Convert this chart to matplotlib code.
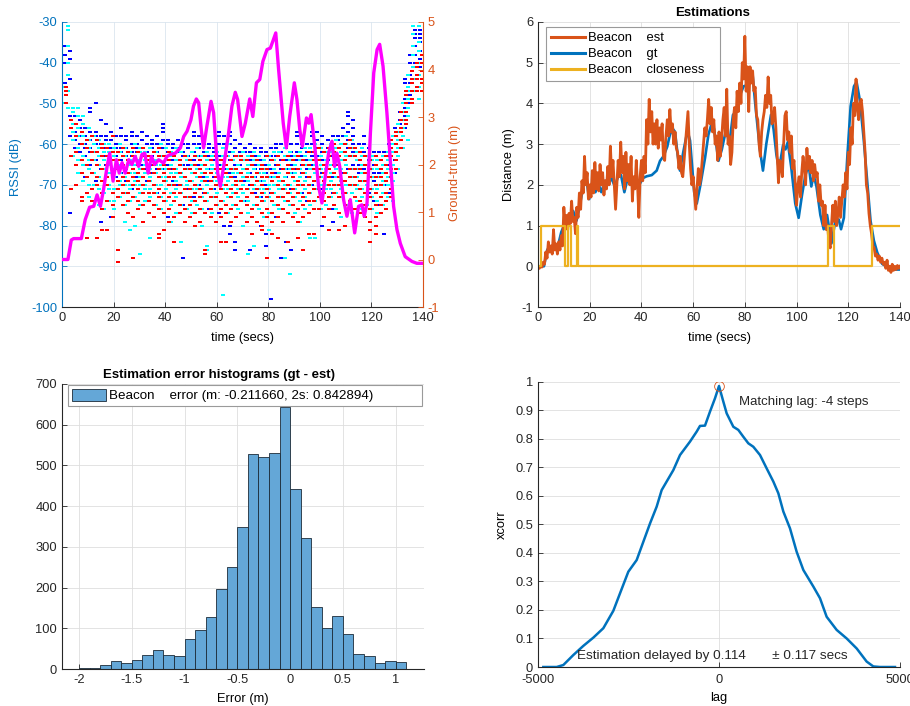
import numpy as np
import matplotlib
matplotlib.use("Agg")
import matplotlib.pyplot as plt
from matplotlib.patches import Patch
from matplotlib.lines import Line2D

plt.rcParams['font.family'] = ['Liberation Sans', 'DejaVu Sans']
plt.rcParams['font.size'] = 9.3
plt.rcParams['axes.unicode_minus'] = False

BLUE = '#0072BD'
ORANGE = '#D95319'
YELLOW = '#EDB120'
TXT = '#262626'

# ---- RSSI samples per beacon colour, one list per time column (dB)
blue_rssi = [
    [-36, -38, -40, -45], [-37, -39, -44, -53, -58, -77], [-53, -55, -57, -59, -61],
    [-54, -56, -58, -60, -62, -64], [-56, -58, -60, -61, -63, -68],
    [-51, -52, -57, -59, -61, -62, -65], [-50, -57, -58, -60, -62, -64, -69],
    [-54, -58, -60, -61, -63, -66, -79], [-55, -58, -59, -61, -63, -65, -68],
    [-57, -59, -61, -62, -64, -67, -78], [-58, -60, -61, -63, -65, -68],
    [-56, -58, -61, -62, -64, -67, -70], [-58, -59, -61, -63, -66, -69],
    [-57, -58, -60, -62, -63, -65, -71], [-58, -60, -61, -62, -64, -68],
    [-57, -59, -61, -63, -65, -70], [-58, -60, -62, -63, -66, -69],
    [-59, -60, -61, -63, -65, -67], [-58, -60, -62, -64, -66, -72],
    [-55, -56, -57, -59, -61, -63, -66], [-59, -60, -62, -64, -65, -68, -78],
    [-60, -61, -63, -64, -66, -69], [-59, -61, -62, -64, -67, -70],
    [-60, -62, -63, -65, -68, -75, -88], [-60, -61, -63, -65, -66, -71],
    [-57, -58, -60, -62, -64, -67, -73], [-58, -60, -61, -63, -65, -70],
    [-60, -62, -63, -65, -68, -72], [-60, -61, -63, -64, -66, -69, -76],
    [-61, -62, -64, -66, -68, -71], [-57, -58, -60, -63, -65, -69, -77],
    [-58, -60, -61, -63, -66, -70, -80], [-57, -58, -60, -62, -64, -67, -80, -82],
    [-59, -61, -63, -65, -68, -84, -86], [-60, -62, -63, -65, -67, -71],
    [-61, -62, -64, -66, -69, -74], [-60, -62, -64, -65, -67, -70, -86],
    [-61, -63, -65, -66, -68, -72], [-61, -62, -64, -66, -69, -73, -80],
    [-62, -63, -65, -67, -70, -82, -85], [-61, -63, -64, -66, -68, -72, -98],
    [-60, -61, -63, -65, -67, -70, -78], [-60, -62, -64, -66, -69, -88],
    [-61, -63, -64, -66, -68, -84], [-60, -62, -63, -65, -67, -71, -86],
    [-57, -58, -60, -62, -64, -66, -69], [-60, -61, -63, -65, -67, -72],
    [-60, -62, -64, -66, -68, -74], [-57, -58, -60, -62, -63, -65, -70],
    [-57, -59, -61, -63, -66, -69], [-58, -60, -62, -64, -67, -71, -80],
    [-59, -61, -62, -64, -66, -70], [-58, -60, -63, -65, -68, -72, -76, -79],
    [-58, -59, -61, -63, -65, -68], [-56, -58, -60, -62, -64, -67, -72],
    [-52, -53, -55, -57, -59, -61, -63, -66], [-54, -56, -58, -60, -62, -65, -70],
    [-60, -62, -64, -65, -67, -71], [-58, -60, -62, -63, -66, -69],
    [-61, -63, -64, -66, -68, -72], [-62, -63, -65, -67, -69, -74],
    [-62, -64, -66, -67, -70, -75], [-62, -63, -65, -67, -70, -82],
    [-60, -62, -63, -65, -68, -72], [-56, -58, -60, -62, -64, -67],
    [-52, -54, -55, -57, -59, -61], [-44, -45, -49, -51, -53, -56],
    [-38, -40, -43, -45, -48, -50], [-32, -33, -34, -36, -38, -40, -44],
    [-32, -33, -34, -35, -37, -39, -41],
]
cyan_rssi = [
    [-46, -50], [-31, -32, -36, -40, -43, -47, -51], [-51, -52, -55, -57, -59, -63],
    [-51, -53, -56, -58, -61, -64, -67], [-53, -55, -58, -60, -63, -65, -69],
    [-56, -59, -61, -64, -66, -70, -73], [-58, -60, -62, -64, -67, -70, -74],
    [-59, -61, -63, -65, -68, -71, -75], [-60, -62, -64, -66, -69, -72, -76],
    [-60, -62, -65, -67, -70, -71, -74], [-61, -63, -64, -66, -68, -71, -74, -76],
    [-60, -62, -65, -67, -69, -70, -73], [-61, -63, -66, -68, -70, -72, -75, -79],
    [-62, -64, -65, -67, -70, -71, -74, -81], [-60, -63, -65, -67, -69, -70, -73, -80],
    [-61, -62, -64, -66, -68, -70, -72, -75, -87], [-62, -64, -65, -67, -70, -71, -74],
    [-61, -63, -66, -68, -69, -71, -73, -83], [-62, -64, -65, -67, -70, -72, -75],
    [-60, -63, -65, -66, -68, -70, -73, -76], [-61, -64, -66, -68, -69, -71, -74],
    [-62, -63, -65, -67, -70, -72, -75, -79], [-61, -64, -66, -67, -69, -71, -73, -77],
    [-62, -65, -67, -68, -70, -72, -75, -84], [-63, -64, -66, -69, -70, -73, -76],
    [-62, -65, -67, -69, -71, -74, -77], [-61, -63, -66, -68, -70, -71, -75],
    [-63, -65, -67, -69, -71, -73, -76, -80], [-62, -64, -66, -68, -70, -72, -74, -85, -86],
    [-63, -65, -66, -69, -71, -73, -77], [-62, -64, -67, -69, -70, -72, -75],
    [-61, -63, -65, -68, -70, -71, -74, -97], [-60, -63, -66, -68, -69, -71, -73, -77],
    [-62, -64, -66, -67, -70, -72, -75], [-63, -65, -67, -69, -71, -73, -76],
    [-62, -64, -66, -68, -70, -72, -74, -80], [-63, -65, -67, -69, -71, -74, -77, -87],
    [-62, -64, -66, -68, -70, -71, -75, -85], [-63, -65, -67, -69, -71, -73, -76],
    [-64, -66, -67, -69, -71, -72, -74, -78], [-63, -65, -68, -70, -71, -73, -77, -81],
    [-62, -64, -66, -68, -70, -72, -75], [-62, -65, -67, -69, -71, -73, -76],
    [-61, -63, -66, -68, -70, -71, -74, -88], [-62, -64, -66, -67, -70, -72, -75, -92],
    [-63, -65, -67, -69, -71, -73, -77], [-62, -64, -66, -68, -70, -72, -74, -79],
    [-61, -63, -65, -67, -69, -71, -73, -76], [-61, -64, -66, -68, -70, -72, -75, -83],
    [-60, -62, -65, -67, -69, -71, -74, -83], [-61, -63, -65, -66, -68, -70, -73, -76],
    [-62, -64, -66, -68, -70, -71, -75], [-60, -62, -65, -67, -69, -71, -73],
    [-59, -61, -64, -66, -68, -70, -72, -76], [-60, -62, -64, -66, -69, -71, -73, -78],
    [-58, -60, -63, -65, -67, -70, -72, -75], [-59, -61, -63, -66, -68, -70, -72, -77],
    [-62, -64, -66, -68, -70, -71, -74], [-61, -63, -65, -67, -69, -71, -73, -76],
    [-63, -65, -67, -69, -70, -72, -75], [-63, -64, -66, -68, -71, -73, -76],
    [-64, -66, -68, -70, -71, -74, -77], [-63, -65, -67, -69, -70, -72, -75],
    [-62, -64, -66, -68, -70, -73], [-58, -60, -62, -65, -67, -69, -74],
    [-55, -57, -59, -61, -63, -66], [-50, -52, -54, -56, -58, -61],
    [-43, -46, -47, -49, -51, -53, -59], [-31, -33, -36, -38, -41, -44, -47],
    [-31, -35, -37, -40, -43, -46, -49],
]
red_rssi = [
    [-46, -47, -48, -50], [-54, -56, -63, -71], [-55, -58, -62, -65, -70],
    [-57, -60, -64, -67, -73, -74], [-59, -61, -65, -68, -72, -83],
    [-58, -62, -64, -67, -71, -74], [-59, -62, -65, -68, -70, -73, -83],
    [-60, -61, -63, -66, -69, -72, -76, -81], [-61, -63, -65, -68, -70, -74, -81],
    [-58, -62, -64, -67, -72, -75, -78], [-62, -64, -66, -69, -71, -73, -86, -89],
    [-61, -63, -65, -68, -70, -72, -75], [-62, -64, -67, -69, -72, -74, -77],
    [-61, -63, -66, -68, -70, -73, -78, -88], [-62, -65, -67, -69, -71, -74, -76],
    [-61, -63, -66, -68, -70, -72, -75, -79], [-63, -64, -67, -69, -72, -74, -77],
    [-62, -65, -67, -70, -72, -75, -78], [-61, -63, -66, -68, -71, -73, -76, -82, -83],
    [-63, -65, -67, -69, -72, -74, -77, -81], [-62, -64, -66, -68, -70, -73, -76, -79],
    [-63, -66, -68, -70, -72, -74, -78, -84], [-64, -65, -67, -70, -72, -75, -77],
    [-63, -66, -68, -71, -73, -76, -79], [-64, -66, -69, -71, -73, -75, -78],
    [-63, -65, -67, -70, -72, -74, -77, -80], [-64, -66, -68, -71, -73, -76, -79],
    [-63, -65, -67, -69, -72, -74, -77, -86, -87], [-64, -67, -69, -71, -73, -76, -78],
    [-63, -66, -68, -70, -73, -75, -79], [-64, -66, -69, -71, -74, -76, -78, -84],
    [-63, -65, -67, -70, -72, -75, -77, -84], [-64, -66, -68, -71, -73, -76, -79],
    [-63, -66, -69, -70, -72, -75, -78], [-63, -64, -67, -69, -71, -74, -77],
    [-64, -66, -68, -71, -73, -75, -79], [-63, -65, -68, -70, -72, -76, -78, -82],
    [-64, -67, -69, -71, -73, -75, -79], [-65, -66, -68, -70, -72, -74, -77, -80, -81],
    [-63, -66, -68, -71, -73, -76, -78, -88], [-64, -67, -69, -72, -74, -77, -79, -82],
    [-63, -65, -68, -70, -73, -75, -78, -83], [-64, -66, -69, -71, -73, -76, -79],
    [-63, -65, -67, -70, -72, -74, -77, -84], [-64, -66, -68, -71, -73, -75, -78],
    [-63, -66, -69, -70, -72, -76, -79, -83], [-64, -65, -67, -70, -73, -75, -78, -86],
    [-62, -65, -68, -70, -72, -74, -77, -82], [-62, -64, -66, -69, -71, -74, -76, -82],
    [-61, -64, -66, -68, -71, -73, -76], [-62, -65, -67, -69, -72, -74, -78],
    [-61, -63, -66, -68, -70, -73, -76, -81], [-60, -62, -65, -67, -70, -72, -75],
    [-61, -63, -65, -68, -70, -73, -77, -81], [-60, -62, -64, -67, -69, -72, -75, -80],
    [-59, -61, -63, -66, -68, -70, -74], [-61, -63, -66, -68, -70, -73, -76],
    [-62, -64, -66, -69, -71, -74, -77], [-63, -65, -67, -69, -72, -75, -78],
    [-64, -66, -68, -71, -73, -76, -79, -81, -84], [-63, -65, -68, -70, -72, -75, -78, -80, -82],
    [-64, -66, -68, -70, -73, -75, -77], [-63, -65, -67, -69, -72, -74, -76],
    [-59, -61, -63, -66, -68, -71, -73], [-57, -58, -60, -62, -64, -66],
    [-52, -54, -56, -57, -59, -61], [-47, -48, -50, -52, -54, -55],
    [-42, -44, -45, -47, -49, -50], [-40, -41, -43, -44, -46, -47],
    [-38, -40, -42, -44, -45, -47],
]
blue_t = np.arange(1.0, 140, 2)
cyan_t = np.arange(0.3, 139, 2)
red_t = np.arange(1.6, 140, 2)

# ---- ground truth distance (m)
gt_t = [0, 2.3, 3.6, 4.5, 7.5, 9.0, 10.7, 12.3, 13.6, 14.9, 16.1, 17.5, 18.5, 19.8, 21.1,
        22.2, 23.3, 24.5, 25.9, 27.1, 28.4, 29.7, 31.0, 32.1, 33.4, 34.7, 35.9, 37.5, 39.4,
        40.7, 42.0, 44.0, 45.9, 47.2, 48.5, 50.0, 51.0, 52.1, 53.0, 54.0, 54.9, 56.2, 57.8,
        58.8, 60.4, 61.4, 62.7, 64.6, 65.9, 67.2, 68.1, 69.8, 71.1, 72.8, 74.0, 75.4, 76.7,
        77.9, 79.5, 80.8, 81.8, 82.9, 84.0, 85.8, 87.0, 88.3, 90.1, 91.1, 92.2, 93.2, 94.8,
        95.7, 96.6, 97.9, 99.5, 100.8, 102.1, 103.4, 104.7, 105.7, 106.6, 107.7, 109.2,
        110.5, 111.8, 113.5, 115.0, 116.3, 117.2, 118.3, 119.6, 120.9, 122.2, 123.2, 124.5,
        126.0, 127.3, 128.6, 129.9, 131.2, 133.1, 135.7, 137.6, 140]
gt_v = [0, 0, 0.41, 0.44, 0.44, 0.84, 1.10, 1.12, 1.36, 1.12, 1.47, 1.96, 2.24, 1.65, 2.10,
        1.82, 2.04, 1.82, 2.10, 2.00, 2.17, 1.96, 2.21, 2.24, 1.82, 2.17, 2.00, 2.10, 2.03,
        2.17, 2.21, 2.24, 2.35, 2.59, 2.70, 2.94, 3.23, 3.38, 3.30, 2.74, 2.35, 2.81, 3.33,
        3.09, 1.82, 1.54, 1.96, 2.66, 3.23, 3.52, 3.37, 2.59, 2.87, 3.38, 3.01, 3.72, 3.79,
        4.17, 4.42, 4.45, 4.60, 4.77, 4.00, 2.87, 2.35, 3.01, 3.72, 3.37, 2.74, 2.38, 2.98,
        2.87, 3.05, 2.45, 1.54, 1.19, 1.75, 2.24, 2.49, 1.96, 2.24, 1.96, 1.26,
        0.91, 1.26, 0.56, 1.12, 1.15, 0.91, 1.19, 2.66, 3.93, 4.42, 4.53, 4.07,
        3.09, 2.10, 1.12, 0.63, 0.34, 0.06, -0.04, -0.08, -0.08]

# ---- estimated distance (m), every 0.5 s from 0 to 140
est_v = [
    -0.05, -0.05, 0.0, -0.02, 0.1, 0.05, 0.35, 0.2, 0.6, 0.35,
    0.5, 0.3, 0.9, 0.4, 0.55, 0.3, 0.6, 0.4, 0.75, 0.5,
    1.45, 1.0, 1.25, 0.9, 1.3, 1.05, 1.6, 1.1, 1.2, 0.8,
    1.45, 1.2, 1.8, 1.4, 2.1, 1.8, 2.7, 2.0, 2.3, 1.65,
    2.0, 1.7, 2.35, 1.8, 2.55, 1.9, 2.3, 1.85, 2.5, 2.0,
    2.3, 1.75, 2.1, 1.9, 2.45, 2.0, 2.95, 2.2, 2.6, 2.0,
    1.4, 2.0, 2.6, 2.2, 3.05, 2.3, 2.7, 1.9, 2.8, 2.1,
    2.5, 2.0, 2.7, 1.6, 2.2, 1.9, 2.6, 2.0, 1.2, 2.2,
    2.6, 2.1, 2.7, 2.3, 3.6, 3.0, 4.1, 3.3, 3.8, 3.0,
    3.5, 3.0, 3.6, 2.9, 3.4, 3.1, 3.5, 2.7, 2.6, 3.2,
    3.6, 3.2, 3.85, 3.3, 3.5, 3.0, 3.3, 2.9, 2.8, 2.4,
    2.7, 2.3, 2.2, 2.6, 3.0, 3.4, 3.8, 3.0, 2.4, 2.0,
    2.2, 1.8, 1.4, 1.9, 2.4, 2.0, 2.2, 2.6, 3.0, 3.4,
    3.2, 3.6, 4.1, 3.5, 3.9, 3.3, 3.6, 3.0, 3.2, 2.6,
    3.3, 2.7, 3.1, 3.6, 3.9, 3.2, 4.35, 3.0, 3.2, 2.5,
    2.8, 3.6, 3.9, 3.4, 4.3, 3.8, 4.5, 4.0, 5.0, 4.6,
    5.65, 4.3, 4.9, 3.8, 4.9, 4.5, 4.8, 4.3, 4.4, 3.7,
    3.6, 3.0, 2.7, 3.3, 3.6, 3.8, 4.2, 3.9, 4.65, 4.0,
    4.2, 3.5, 3.6, 3.9, 3.4, 2.7, 2.05, 2.6, 2.5, 2.2,
    3.0, 3.7, 3.8, 3.1, 3.3, 2.8, 3.2, 2.4, 2.6, 2.0,
    1.5, 2.0, 2.2, 1.7, 2.3, 2.7, 2.4, 2.0, 2.9, 2.4,
    2.7, 2.3, 2.6, 2.1, 2.5, 2.2, 2.3, 1.6, 2.0, 1.5,
    1.6, 1.0, 1.5, 0.9, 1.0, 0.6, 0.45, 1.0, 1.5, 1.1,
    1.6, 1.0, 1.3, 1.7, 1.2, 1.6, 2.0, 1.7, 2.3, 1.9,
    2.8, 2.5, 3.4, 3.0, 4.0, 3.7, 4.6, 3.9, 3.6, 4.0,
    4.1, 3.8, 3.3, 2.8, 2.0, 1.8, 1.3, 1.0, 0.8, 0.5,
    0.45, 0.25, 0.3, 0.15, 0.25, 0.1, 0.2, 0.05, 0.1, -0.05,
    0.15, -0.1, 0.0, -0.15, 0.05, -0.1, 0.0, -0.08, 0.02, -0.05,
    0.0,
]
est_t = np.linspace(0, 140, len(est_v))

# ---- closeness flag (step)
close_t = [0, 1.2, 10.3, 11.5, 12.9, 14.9, 15.6, 112.2, 114.4, 129.0, 140]
close_v = [0, 1, 0, 1, 0, 1, 0, 1, 0, 1, 1]

# ---- error histogram (bin width 0.1 from -2.0)
hist_left = -2.0
hist_width = 0.1
hist_counts = [2, 2, 9, 20, 14, 21, 34, 46, 34, 32, 74, 96, 127, 196, 250, 348,
               527, 520, 530, 643, 441, 321, 152, 100, 129, 86, 36, 33, 14, 20, 16]

# ---- cross-correlation
lag = [-4853, -4484, -4300, -4024, -3748, -3471, -3195, -2919, -2735, -2505, -2274,
       -2090, -1906, -1722, -1584, -1446, -1262, -1077, -801, -617, -525, -387, -249,
       -110, 0, 120, 212, 396, 534, 672, 810, 948, 1133, 1317, 1501, 1639, 1777, 1961,
       2145, 2330, 2606, 2790, 2974, 3250, 3527, 3803, 4079, 4263, 4448, 4862]
xc = [0, 0, 0.007, 0.042, 0.074, 0.103, 0.136, 0.197, 0.258, 0.334, 0.375,
      0.439, 0.503, 0.562, 0.620, 0.650, 0.690, 0.743, 0.790, 0.825, 0.845, 0.846, 0.895,
      0.942, 0.985, 0.930, 0.889, 0.842, 0.831, 0.807, 0.784, 0.772, 0.743, 0.696, 0.650,
      0.609, 0.545, 0.486, 0.404, 0.340, 0.282, 0.241, 0.176, 0.130, 0.100, 0.065,
      0.019, 0.002, 0, 0]


def style_axes(ax, grid_color='#dedede'):
    for s in ['top', 'right']:
        ax.spines[s].set_visible(False)
    for s in ['left', 'bottom']:
        ax.spines[s].set_linewidth(0.8)
        ax.spines[s].set_color(TXT)
    ax.tick_params(direction='in', length=3.5, width=0.6, colors=TXT, labelsize=9.3)
    ax.grid(True, color=grid_color, linewidth=0.6)
    ax.set_axisbelow(True)


fig = plt.figure(figsize=(9.1, 7.06), dpi=100)

# ---------------- top-left: RSSI + ground truth
ax1 = fig.add_axes([62 / 910, 1 - 307 / 706, 361 / 910, 285 / 706])
style_axes(ax1, grid_color='#dae5ef')
ax1.spines['left'].set_color(BLUE)
ax1.tick_params(axis='y', colors=BLUE)
ax1.tick_params(axis='x', colors=TXT)
dot = [(-1, -0.78), (1, -0.78), (1, 0.78), (-1, 0.78), (-1, -0.78)]
for times, cols, c in [(blue_t, blue_rssi, '#0000FF'), (cyan_t, cyan_rssi, '#00FFFF'),
                       (red_t, red_rssi, '#FF0000')]:
    xs = np.concatenate([[t] * len(v) for t, v in zip(times, cols)])
    ys = np.concatenate(cols)
    ax1.plot(xs, ys, linestyle='none', marker=dot, ms=2.7, mew=0, color=c)
ax1.set_xlim(0, 140)
ax1.set_ylim(-100, -30)
ax1.set_xticks(range(0, 141, 20))
ax1.set_yticks(range(-100, -29, 10))
ax1.set_xlabel('time (secs)', va='center')
ax1.xaxis.set_label_coords(0.5, -0.11)
ax1.set_ylabel('RSSI (dB)', color=BLUE, va='center')
ax1.yaxis.set_label_coords(-0.128, 0.49)

ax2 = ax1.twinx()
ax2.plot(gt_t, gt_v, color='#FF00FF', lw=2.4)
ax2.set_ylim(-1, 5)
ax2.set_yticks(range(-1, 6))
for s in ['top', 'left', 'bottom']:
    ax2.spines[s].set_visible(False)
ax2.spines['right'].set_color(ORANGE)
ax2.spines['right'].set_linewidth(0.8)
ax2.tick_params(axis='y', direction='in', length=3.5, width=0.6, colors=ORANGE, labelsize=9.3)
ax2.set_ylabel('Ground-truth (m)', color=ORANGE, va='center')
ax2.yaxis.set_label_coords(1.09, 0.47)

# ---------------- top-right: estimations
ax3 = fig.add_axes([538 / 910, 1 - 307 / 706, 362 / 910, 285 / 706])
style_axes(ax3)
ax3.plot(gt_t, gt_v, color=BLUE, lw=1.9)
ax3.plot(est_t, est_v, color=ORANGE, lw=2.0)
ax3.plot(close_t, close_v, color=YELLOW, lw=1.6, drawstyle='steps-post')
ax3.set_xlim(0, 140)
ax3.set_ylim(-1, 6)
ax3.set_xticks(range(0, 141, 20))
ax3.set_yticks(range(-1, 7))
ax3.set_title('Estimations', fontweight='bold', fontsize=9.5, x=0.483, pad=4)
ax3.set_xlabel('time (secs)', va='center')
ax3.xaxis.set_label_coords(0.5, -0.11)
ax3.set_ylabel('Distance (m)', va='center')
ax3.yaxis.set_label_coords(-0.08, 0.5)
handles = [Line2D([], [], color=ORANGE, lw=2.2), Line2D([], [], color=BLUE, lw=2.2),
           Line2D([], [], color=YELLOW, lw=2.2)]
leg = ax3.legend(handles, ['Beacon    est', 'Beacon    gt', 'Beacon    closeness   '],
                 loc='upper left', bbox_to_anchor=(0.022, 0.982), fancybox=False,
                 edgecolor='#9a9a9a', framealpha=1, handlelength=2.6, handletextpad=0.2,
                 labelspacing=0.28, borderpad=0.4, borderaxespad=0, fontsize=9.4)
leg.get_frame().set_linewidth(0.8)

# ---------------- bottom-left: error histogram
ax4 = fig.add_axes([62 / 910, 1 - 669 / 706, 362 / 910, 285 / 706])
style_axes(ax4)
edges = hist_left + hist_width * np.arange(len(hist_counts))
ax4.bar(edges, hist_counts, width=hist_width, align='edge', color='#64a7d7',
        edgecolor='#1c2b38', linewidth=0.6)
ax4.set_xlim(-2.161, 1.268)
ax4.set_ylim(0, 700)
ax4.set_xticks([-2, -1.5, -1, -0.5, 0, 0.5, 1])
ax4.set_xticklabels(['-2', '-1.5', '-1', '-0.5', '0', '0.5', '1'])
ax4.set_yticks(range(0, 701, 100))
ax4.set_title('Estimation error histograms (gt - est)', fontweight='bold', fontsize=9.5,
              x=0.434, pad=4)
ax4.set_xlabel('Error (m)', va='center')
ax4.xaxis.set_label_coords(0.5, -0.105)
leg2 = ax4.legend([Patch(facecolor='#64a7d7', edgecolor='#1c2b38', linewidth=0.6)],
                  ['Beacon    error (m: -0.211660, 2s: 0.842894)            '],
                  loc='upper left', bbox_to_anchor=(0.017, 0.996), fancybox=False,
                  edgecolor='#9a9a9a', framealpha=1, handlelength=2.55, handleheight=0.95,
                  handletextpad=0.2, borderpad=0.3, borderaxespad=0, fontsize=9.6)
leg2.get_frame().set_linewidth(0.8)

# ---------------- bottom-right: xcorr
ax5 = fig.add_axes([538 / 910, 1 - 667 / 706, 362 / 910, 285.3 / 706])
style_axes(ax5)
ax5.plot(lag, xc, color=BLUE, lw=1.8)
ax5.plot([0], [max(xc)], 'o', mfc='none', mec=ORANGE, ms=7, mew=0.6)
ax5.set_xlim(-5000, 5000)
ax5.set_ylim(0, 1)
ax5.set_xticks([-5000, 0, 5000])
ax5.set_yticks(np.arange(0, 1.01, 0.1))
ax5.set_yticklabels(['0', '0.1', '0.2', '0.3', '0.4', '0.5', '0.6', '0.7', '0.8', '0.9', '1'])
ax5.tick_params(axis='x', pad=5)
ax5.set_xlabel('lag', va='center')
ax5.xaxis.set_label_coords(0.5, -0.109)
ax5.set_ylabel('xcorr', va='center')
ax5.yaxis.set_label_coords(-0.099, 0.5)
ax5.text(560, 0.93, 'Matching lag: -4 steps', va='center', ha='left', fontsize=9.5, color=TXT)
ax5.text(-3913, 0.038, 'Estimation delayed by 0.114       \u00b1 0.117 secs', va='center',
         ha='left', fontsize=9.7, color=TXT)

fig.savefig('out.png', dpi=100)
